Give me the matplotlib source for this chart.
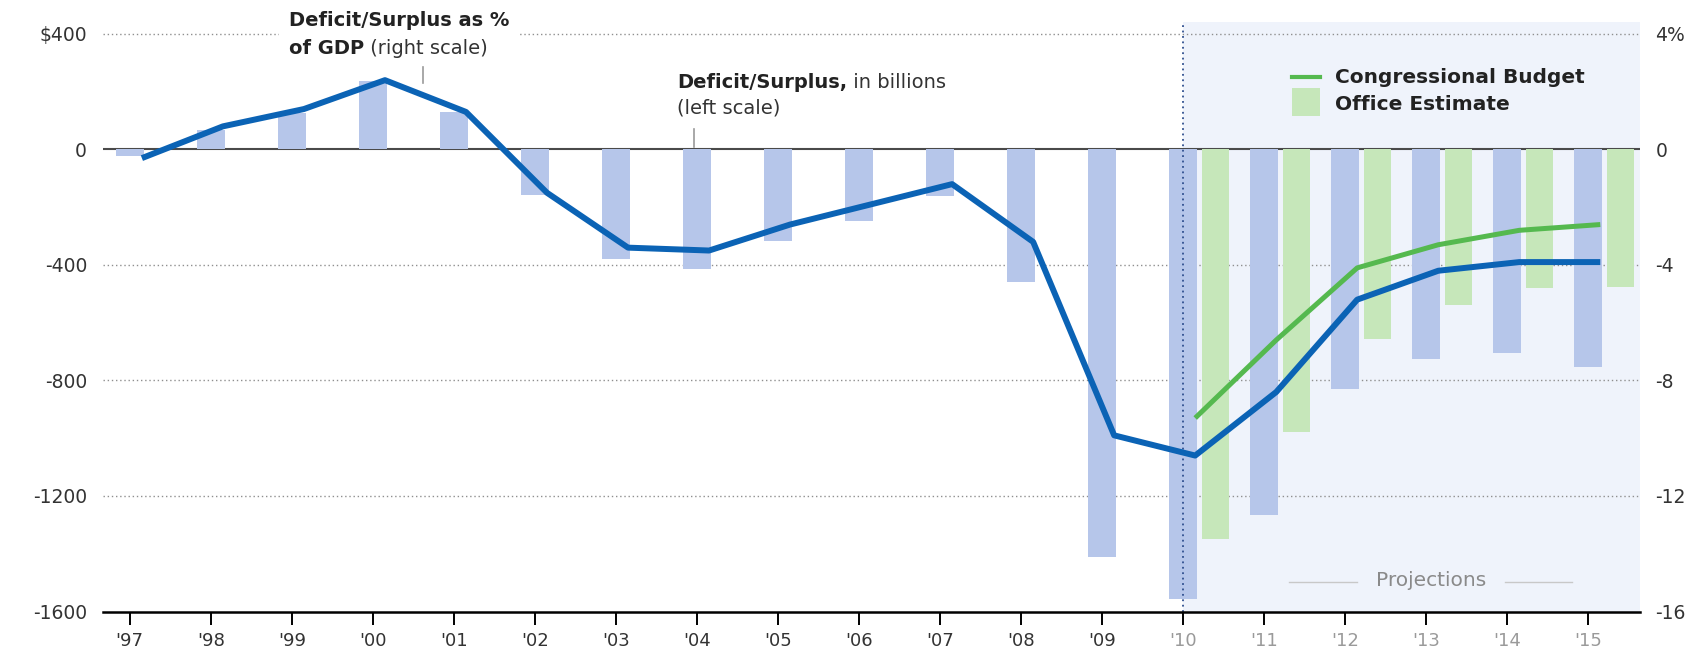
import numpy as np
import matplotlib.pyplot as plt
from matplotlib.lines import Line2D
from matplotlib.patches import Rectangle

# --- Data ---
years = [1997, 1998, 1999, 2000, 2001, 2002, 2003, 2004, 2005, 2006,
         2007, 2008, 2009, 2010, 2011, 2012, 2013, 2014, 2015]
year_labels = ["'97", "'98", "'99", "'00", "'01", "'02", "'03", "'04", "'05", "'06",
               "'07", "'08", "'09", "'10", "'11", "'12", "'13", "'14", "'15"]

# deficit/surplus in billions (left scale), administration figures
admin_deficit = [-22, 69, 126, 236, 128, -158, -378, -413, -318, -248,
                 -161, -459, -1413, -1556, -1267, -828, -727, -706, -752]
# deficit/surplus as % of GDP (right scale)
admin_pct = [-0.3, 0.8, 1.4, 2.4, 1.3, -1.5, -3.4, -3.5, -2.6, -1.9,
             -1.2, -3.2, -9.9, -10.6, -8.4, -5.2, -4.2, -3.9, -3.9]

# Congressional Budget Office estimates
cbo_years = [2010, 2011, 2012, 2013, 2014, 2015]
cbo_deficit = [-1350, -980, -655, -540, -480, -476]
cbo_pct = [-9.3, -6.6, -4.1, -3.3, -2.8, -2.6]

left_ticks = [400, 0, -400, -800, -1200, -1600]
left_labels = ['$400', '0', '-400', '-800', '-1200', '-1600']
right_ticks = [4, 0, -4, -8, -12, -16]
right_labels = ['4%', '0', '-4', '-8', '-12', '-16']

first_projection = 2010

# --- Style ---
W, H = 1704, 659
blue_bar = '#b6c6ea'
green_bar = '#c6e7ba'
blue_line = '#0b63b5'
green_line = '#55b94f'
shade = '#eff3fb'
bar_w = 0.34
cbo_shift = 0.40
line_shift = 0.15

plt.rcParams['font.family'] = 'DejaVu Sans'

fig = plt.figure(figsize=(W / 100, H / 100), dpi=100)
fig.patch.set_facecolor('white')

def fx(x):
    return x / W

def fy(y):
    return 1 - y / H

ax = fig.add_axes([fx(103), fy(611.5), (1640 - 103) / W, (611.5 - 22.4) / H])
ax.set_xlim(1996.67, 2015.64)
ax.set_ylim(-1600, 440)

# projection shading and separator
ax.axvspan(first_projection, ax.get_xlim()[1], color=shade, zorder=0, lw=0)
ax.axvline(first_projection, color='#2f4f8f', ls=(0, (1, 2)), lw=1.3, zorder=4)

# grid + zero line
for t in left_ticks[:1] + left_ticks[2:-1]:
    ax.axhline(t, color='#8f8f8f', ls=(0, (1, 2)), lw=1, zorder=1)
ax.axhline(0, color='#4a4a4a', lw=1.5, zorder=2)

# bars
ax.bar(years, admin_deficit, width=bar_w, color=blue_bar, zorder=3)
ax.bar(np.array(cbo_years) + cbo_shift, cbo_deficit, width=bar_w,
       color=green_bar, zorder=3)

# axes styling
for s in ['top', 'left', 'right']:
    ax.spines[s].set_visible(False)
ax.spines['bottom'].set_linewidth(1.8)
ax.spines['bottom'].set_color('black')
ax.spines['bottom'].set_zorder(5)

ax.set_xticks(years)
ax.set_xticklabels(year_labels)
ax.tick_params(axis='x', length=9, width=1.4, pad=6, labelsize=13)
for lbl, yr in zip(ax.get_xticklabels(), years):
    lbl.set_color('#9a9a9a' if yr >= first_projection else '#333333')

ax.set_yticks(left_ticks)
ax.set_yticklabels(left_labels)
ax.tick_params(axis='y', length=0, pad=11.5, labelsize=13.5, labelcolor='#333333')

# right scale: % of GDP lines
ax2 = ax.twinx()
ax2.set_ylim(-16, 4.4)
for s in ax2.spines.values():
    s.set_visible(False)
ax2.set_yticks(right_ticks)
ax2.set_yticklabels(right_labels)
ax2.tick_params(axis='y', length=0, pad=11, labelsize=13.5, labelcolor='#333333')

ax2.plot(np.array(cbo_years) + line_shift, cbo_pct, color=green_line, lw=3.6,
         solid_joinstyle='round', solid_capstyle='butt', zorder=5)
ax2.plot(np.array(years) + line_shift, admin_pct, color=blue_line, lw=4.3,
         solid_joinstyle='round', solid_capstyle='butt', zorder=6)

# --- Annotations ---
white_box = dict(facecolor='white', edgecolor='none', pad=7)
fig.text(fx(289), fy(20), 'Deficit/Surplus as %', weight='bold', size=14,
         va='center', ha='left', color='#222222', bbox=white_box, zorder=6)
t2 = fig.text(fx(289), fy(49), 'of GDP', weight='bold', size=14,
              va='center', ha='left', color='#222222', zorder=6)
fig.add_artist(Line2D([fx(423), fx(423)], [fy(67), fy(83)], color='#9a9a9a', lw=1.2))

t3 = fig.text(fx(677), fy(83), 'Deficit/Surplus,', weight='bold', size=14,
              va='center', ha='left', color='#222222', zorder=6)
fig.text(fx(677), fy(108), '(left scale)', size=14, va='center', ha='left',
         color='#333333', zorder=6)
fig.add_artist(Line2D([fx(694), fx(694)], [fy(129), fy(147)], color='#9a9a9a', lw=1.2))

fig.canvas.draw()
r = fig.canvas.get_renderer()
for base, extra in [(t2, ' (right scale)'), (t3, ' in billions')]:
    bb = base.get_window_extent(r)
    fig.text(bb.x1 / W, base.get_position()[1], extra, size=14, va='center',
             ha='left', color='#333333', zorder=6)

# legend
fig.add_artist(Line2D([fx(1292), fx(1320)], [fy(76.5), fy(76.5)], color=green_line, lw=3))
fig.add_artist(Rectangle((fx(1292), fy(115.5)), 28 / W, 28 / H,
                         transform=fig.transFigure, facecolor=green_bar, edgecolor='none'))
fig.text(fx(1335), fy(77.5), 'Congressional Budget', weight='bold', size=14.5,
         va='center', ha='left', color='#222222')
fig.text(fx(1335), fy(105), 'Office Estimate', weight='bold', size=14.5,
         va='center', ha='left', color='#222222')

# projections label
fig.text(fx(1431), fy(580), 'Projections', size=14.5, va='center', ha='center',
         color='#8a8a8a')
fig.add_artist(Line2D([fx(1289), fx(1357)], [fy(582), fy(582)], color='#c8c8c8', lw=1))
fig.add_artist(Line2D([fx(1505), fx(1572)], [fy(582), fy(582)], color='#c8c8c8', lw=1))

fig.savefig('out.png', dpi=100)
